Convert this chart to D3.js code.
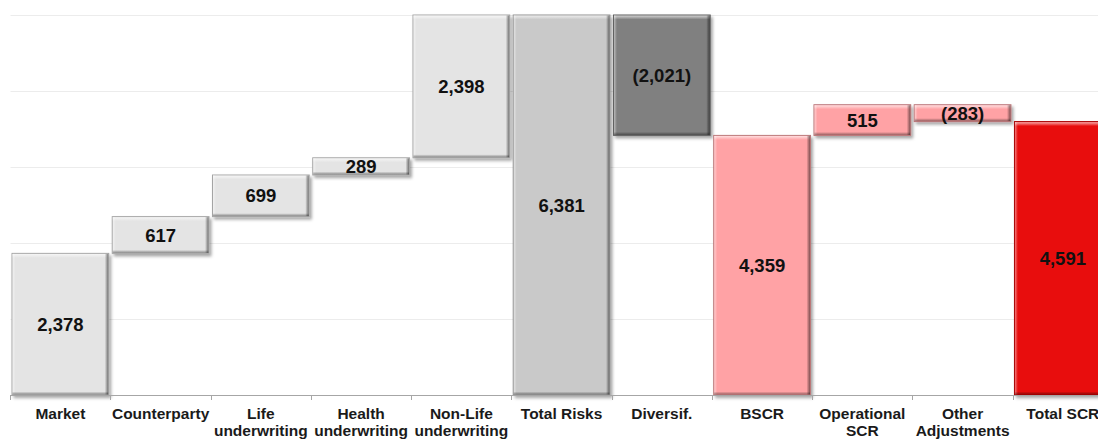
<!DOCTYPE html>
<html>
<head>
<meta charset="utf-8">
<script src="https://cdn.jsdelivr.net/npm/d3@7"></script>
<style>
  html, body { margin: 0; padding: 0; background: #fff; overflow: hidden; }
  svg { display: block; }
</style>
</head>
<body>
<svg id="chart" width="1098" height="439"></svg>
<script>
// SCR breakdown (waterfall)
const categories = ["Market", "Counterparty", "Life\nunderwriting", "Health\nunderwriting",
  "Non-Life\nunderwriting", "Total Risks", "Diversif.", "BSCR", "Operational\nSCR",
  "Other\nAdjustments", "Total SCR"];
const values = [2378, 617, 699, 289, 2398, 6381, -2021, 4359, 515, -283, 4591];
// "step" bars float on the running total, "total" bars start at zero
const kinds = ["step", "step", "step", "step", "step", "total", "step", "total", "step", "step", "total"];
const colors = ["#e4e4e4", "#e4e4e4", "#e4e4e4", "#e4e4e4", "#e4e4e4", "#c9c9c9", "#808080",
  "#ffa2a5", "#ffa2a5", "#ffa2a5", "#e80707"];
const gridValues = [1276, 2552, 3829, 5105, 6381];

const svg = d3.select("#chart");
const baseY = 395, topY = 15;

const x = d3.scaleBand().domain(categories).range([10.5, 1112.7])
  .paddingInner(0.035).paddingOuter(0.015);
const y = d3.scaleLinear().domain([0, 6381]).range([baseY, topY]);

// running totals
let run = 0;
const bars = categories.map((c, i) => {
  let y0, y1;
  if (kinds[i] === "total") { y0 = 0; y1 = values[i]; run = values[i]; }
  else { y0 = run; y1 = run + values[i]; run = y1; }
  return { cat: c, v: values[i], lo: Math.min(y0, y1), hi: Math.max(y0, y1), color: colors[i] };
});

const defs = svg.append("defs");
const sh = defs.append("filter").attr("id", "shadow")
  .attr("x", "-10%").attr("y", "-10%").attr("width", "130%").attr("height", "140%");
sh.append("feDropShadow").attr("dx", 2).attr("dy", 2.5).attr("stdDeviation", 1.6)
  .attr("flood-color", "#000").attr("flood-opacity", 0.35);

const gTop = defs.append("linearGradient").attr("id", "hiTop").attr("x1", 0).attr("y1", 0).attr("x2", 0).attr("y2", 1);
gTop.append("stop").attr("offset", 0).attr("stop-color", "#fff").attr("stop-opacity", 0.65);
gTop.append("stop").attr("offset", 1).attr("stop-color", "#fff").attr("stop-opacity", 0);
const gRight = defs.append("linearGradient").attr("id", "shRight").attr("x1", 0).attr("y1", 0).attr("x2", 1).attr("y2", 0);
gRight.append("stop").attr("offset", 0).attr("stop-color", "#000").attr("stop-opacity", 0);
gRight.append("stop").attr("offset", 1).attr("stop-color", "#000").attr("stop-opacity", 0.5);
const gBot = defs.append("linearGradient").attr("id", "shBot").attr("x1", 0).attr("y1", 0).attr("x2", 0).attr("y2", 1);
gBot.append("stop").attr("offset", 0).attr("stop-color", "#000").attr("stop-opacity", 0);
gBot.append("stop").attr("offset", 1).attr("stop-color", "#000").attr("stop-opacity", 0.4);
const gLeft = defs.append("linearGradient").attr("id", "hiLeft").attr("x1", 0).attr("y1", 0).attr("x2", 1).attr("y2", 0);
gLeft.append("stop").attr("offset", 0).attr("stop-color", "#fff").attr("stop-opacity", 0.45);
gLeft.append("stop").attr("offset", 1).attr("stop-color", "#fff").attr("stop-opacity", 0);

// gridlines
svg.append("g").selectAll("line").data(gridValues).join("line")
  .attr("x1", 10.5).attr("x2", 1098)
  .attr("y1", d => Math.round(y(d)) + 0.5).attr("y2", d => Math.round(y(d)) + 0.5)
  .attr("stroke", "#ececec").attr("stroke-width", 1);

// bars
const bw = x.bandwidth();
const bg = svg.append("g").selectAll("g").data(bars).join("g")
  .attr("transform", d => `translate(${x(d.cat)},${y(d.hi)})`);
bg.append("rect")
  .attr("width", bw).attr("height", d => y(d.lo) - y(d.hi))
  .attr("fill", d => d.color)
  .attr("stroke", d => d3.color(d.color).darker(0.9))
  .attr("stroke-width", 1)
  .attr("filter", "url(#shadow)");
bg.append("rect").attr("x", 0.5).attr("y", 0.5).attr("width", bw - 1)
  .attr("height", d => Math.min(4, y(d.lo) - y(d.hi) - 1)).attr("fill", "url(#hiTop)");
bg.append("rect").attr("x", 0.5).attr("y", 0.5).attr("width", 3)
  .attr("height", d => y(d.lo) - y(d.hi) - 1).attr("fill", "url(#hiLeft)");
bg.append("rect").attr("x", bw - 4).attr("y", 0.5).attr("width", 3.5)
  .attr("height", d => y(d.lo) - y(d.hi) - 1).attr("fill", "url(#shRight)");
bg.append("rect").attr("x", 0.5).attr("y", d => Math.max(0.5, y(d.lo) - y(d.hi) - 3.5))
  .attr("width", bw - 1).attr("height", 3).attr("fill", "url(#shBot)");

// value labels
const fmt = d3.format(",");
svg.append("g").selectAll("text").data(bars).join("text")
  .attr("x", d => x(d.cat) + bw / 2)
  .attr("y", d => (y(d.lo) + y(d.hi)) / 2)
  .attr("dy", "0.36em")
  .attr("text-anchor", "middle")
  .style("font-family", "'Liberation Sans', Arial, sans-serif")
  .style("font-weight", "bold").style("font-size", "18.5px").attr("fill", "#111")
  .text(d => d.v < 0 ? `(${fmt(-d.v)})` : fmt(d.v));

// category axis
const axisG = svg.append("g");
axisG.append("line").attr("x1", 10.5).attr("x2", 1098).attr("y1", baseY + 0.5).attr("y2", baseY + 0.5)
  .attr("stroke", "#a6a6a6");
const step = x.step();
const edges = categories.map(c => x(c) - x.paddingInner() * step / 2);
axisG.selectAll("line.tick").data(edges).join("line").attr("class", "tick")
  .attr("x1", d => Math.round(d) + 0.5).attr("x2", d => Math.round(d) + 0.5)
  .attr("y1", baseY).attr("y2", baseY + 5).attr("stroke", "#a6a6a6");
const lbl = axisG.selectAll("text").data(categories).join("text")
  .attr("x", d => x(d) + bw / 2).attr("y", 419)
  .attr("text-anchor", "middle")
  .style("font-family", "'Liberation Sans', Arial, sans-serif")
  .style("font-weight", "bold").style("font-size", "15.5px").attr("fill", "#1a1a1a");
lbl.selectAll("tspan").data(d => d.split("\n")).join("tspan")
  .attr("x", function () { return d3.select(this.parentNode).attr("x"); })
  .attr("dy", (d, i) => i === 0 ? 0 : 17)
  .text(d => d);
</script>
</body>
</html>
